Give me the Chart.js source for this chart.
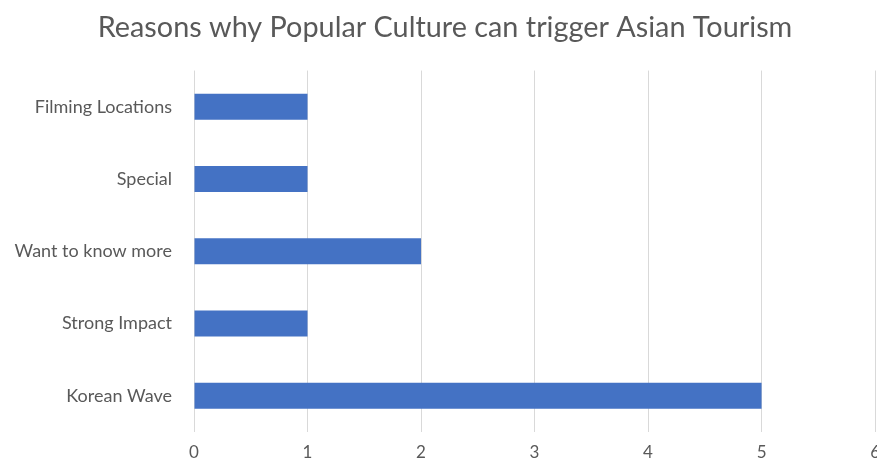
<!DOCTYPE html>
<html>
<head>
<meta charset="utf-8">
<script src="https://cdn.jsdelivr.net/npm/chart.js@4/dist/chart.umd.min.js"></script>
<style>
  html, body { margin: 0; padding: 0; background: #fff; overflow: hidden; }
  #wrap { width: 890px; height: 466px; position: relative; }
</style>
</head>
<body>
<div id="wrap"><canvas id="c"></canvas></div>
<script>
const categories = ["Filming Locations", "Special", "Want to know more", "Strong Impact", "Korean Wave"];
const values = [1, 1, 2, 1, 5];
const titleText = "Reasons why Popular Culture can trigger Asian Tourism";

const fontFamily = "Lato, 'Open Sans', sans-serif";
new Chart(document.getElementById('c'), {
  type: 'bar',
  data: {
    labels: categories,
    datasets: [{
      data: values,
      backgroundColor: '#4472C4',
      borderWidth: 0,
      barPercentage: 0.72,
      categoryPercentage: 0.5
    }]
  },
  options: {
    indexAxis: 'y',
    responsive: true,
    maintainAspectRatio: false,
    animation: false,
    layout: { padding: { left: 0, right: 0, top: 0, bottom: 0 } },
    plugins: {
      legend: { display: false },
      tooltip: { enabled: false },
      title: {
        display: true,
        text: titleText,
        color: '#595959',
        font: { family: fontFamily, size: 28.8, weight: 'normal', lineHeight: 1.2 },
        padding: { top: 10, bottom: 26 }
      }
    },
    scales: {
      x: {
        min: 0, max: 6,
        ticks: { stepSize: 1, color: '#595959', font: { family: fontFamily, size: 17 }, padding: 10 },
        grid: { color: '#d9d9d9', lineWidth: 1, drawTicks: false },
        border: { display: false },
        afterFit: s => { s.height = 34; }
      },
      y: {
        ticks: { color: '#595959', font: { family: fontFamily, size: 18 }, padding: 22 },
        grid: { display: false, drawTicks: false },
        border: { display: false },
        afterFit: s => { s.width = 194; }
      }
    }
  }
});
</script>
</body>
</html>
